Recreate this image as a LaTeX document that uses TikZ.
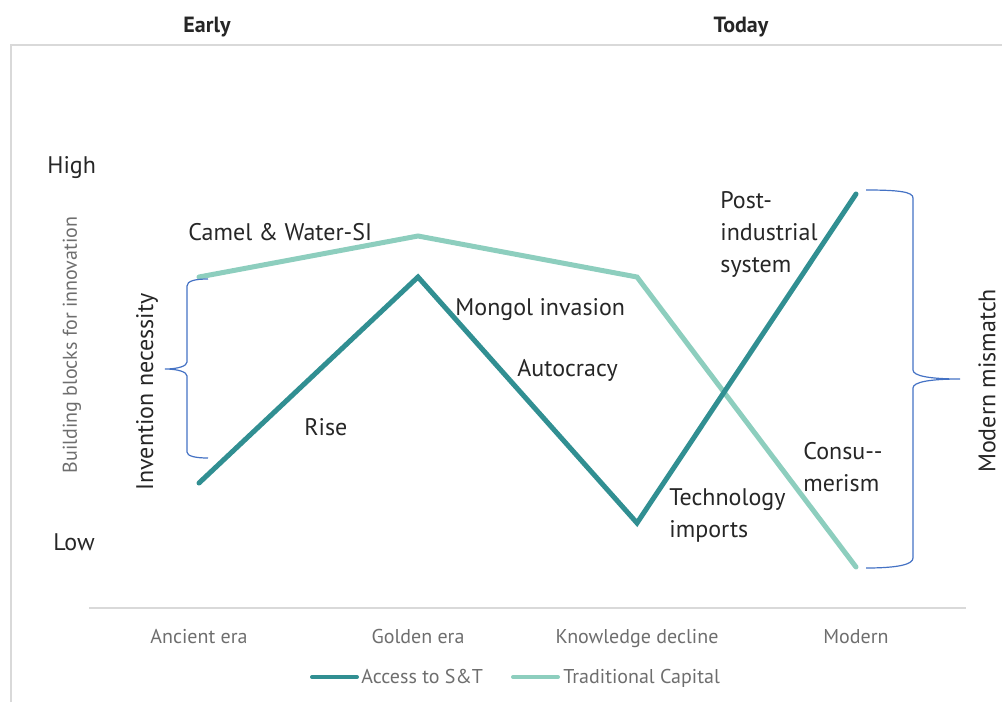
\documentclass[tikz,border=0pt]{standalone}
\usepackage{fontspec}
\setmainfont{PT Sans}
\usetikzlibrary{positioning}
\definecolor{accessc}{RGB}{49,143,146}
\definecolor{tradc}{RGB}{141,206,190}
\definecolor{bracec}{RGB}{68,114,196}
\definecolor{framec}{RGB}{217,217,217}
\definecolor{greytext}{RGB}{110,110,110}

\begin{document}
\begin{tikzpicture}[x=0.5pt,y=-0.5pt,
    access/.style={draw=accessc,line width=2.5pt,line cap=round},
    trad/.style={draw=tradc,line width=2.5pt,line cap=round},
    lbl/.style={font=\fontsize{12}{16}\selectfont,text=black!85,inner sep=0pt,anchor=base west,align=left},
    cat/.style={font=\fontsize{10}{12}\selectfont,text=greytext,inner sep=0pt,anchor=base},
    head/.style={font=\fontsize{11}{13}\selectfont\bfseries,text=black!85,inner sep=0pt,anchor=base},
    brc/.style={draw=bracec,line width=0.6pt}]

      \useasboundingbox (0,0) rectangle (1002,702);
      \draw[framec,line width=0.8pt] (11,702) -- (11,45) -- (1002,45);
      \draw[framec,line width=0.6pt] (89,608) -- (966,608);

      % headings
      \node[head] (early) at (207,32) {Early};
      \node[head] (today) at (741,32) {Today};

      % data points
      \coordinate (a1) at (199,483);
      \coordinate (a2) at (418,277);
      \coordinate (a3) at (637,523);
      \coordinate (a4) at (856,194);
      \coordinate (t1) at (199,277);
      \coordinate (t2) at (418,236);
      \coordinate (t3) at (637,277);
      \coordinate (t4) at (856,567);

      \draw[trad] (t1) -- (t2) -- (t3) -- (t4);
      \draw[access] (a1) -- (a2) -- (a3) -- (a4);

      % axis texts
      \node[lbl] (high) at (47,173) {High};
      \node[lbl] (low) at (53,550) {Low};
      \node[cat] (c1) at (199,643) {Ancient era};
      \node[cat] (c2) at (418,643) {Golden era};
      \node[cat] (c3) at (637,643) {Knowledge decline};
      \node[cat] (c4) at (856,643) {Modern};
      \node[font=\fontsize{10}{12}\selectfont,text=greytext,rotate=90] (yaxis) at (72,345) {Building blocks for innovation};

      % labels on the lines (base = last line)
      \node[lbl] (camel) at (188,240) {Camel \& Water-SI};
      \node[lbl] (mongol) at (455,315) {Mongol invasion};
      \node[lbl] (auto) at (517,376) {Autocracy};
      \node[lbl] (rise) at (304,435) {Rise};
      \node[lbl] (post) at (720,272) {Post-\\industrial\\system};
      \node[lbl] (tech) at (669,537) {Technology\\imports};
      \node[lbl] (consu) at (803,491) {Consu-{}-\\merism};

      % braces
      \draw[brc] (208,279) .. controls (195,279) and (187,281) .. (187,286) -- (187,362)
        .. controls (187,366) and (178,369) .. (165,369)
        .. controls (178,369) and (187,372) .. (187,376) -- (187,452)
        .. controls (187,456) and (195,458) .. (208,458);
      \draw[brc] (866,190) .. controls (900,190) and (913,192) .. (913,198) -- (913,370)
        .. controls (913,376) and (930,379) .. (960,379)
        .. controls (930,379) and (913,382) .. (913,388) -- (913,558)
        .. controls (913,564) and (900,568) .. (866,568);
      \node[font=\fontsize{12}{14}\selectfont,text=black!85,rotate=90] (need) at (147,392) {Invention necessity};
      \node[font=\fontsize{12}{14}\selectfont,text=black!85,rotate=90] (mismatch) at (987,381) {Modern mismatch};

      % legend
      \coordinate (la) at (312,677);
      \coordinate (lb) at (357,677);
      \coordinate (lc) at (513,677);
      \coordinate (ld) at (558,677);
      \draw[access,line width=2pt] (la) -- (lb);
      \draw[trad,line width=2pt] (lc) -- (ld);
      \node[cat,anchor=base west] (leg1) at (361,683) {Access to S\&T};
      \node[cat,anchor=base west] (leg2) at (563,683) {Traditional Capital};

    \end{tikzpicture}
\end{document}
